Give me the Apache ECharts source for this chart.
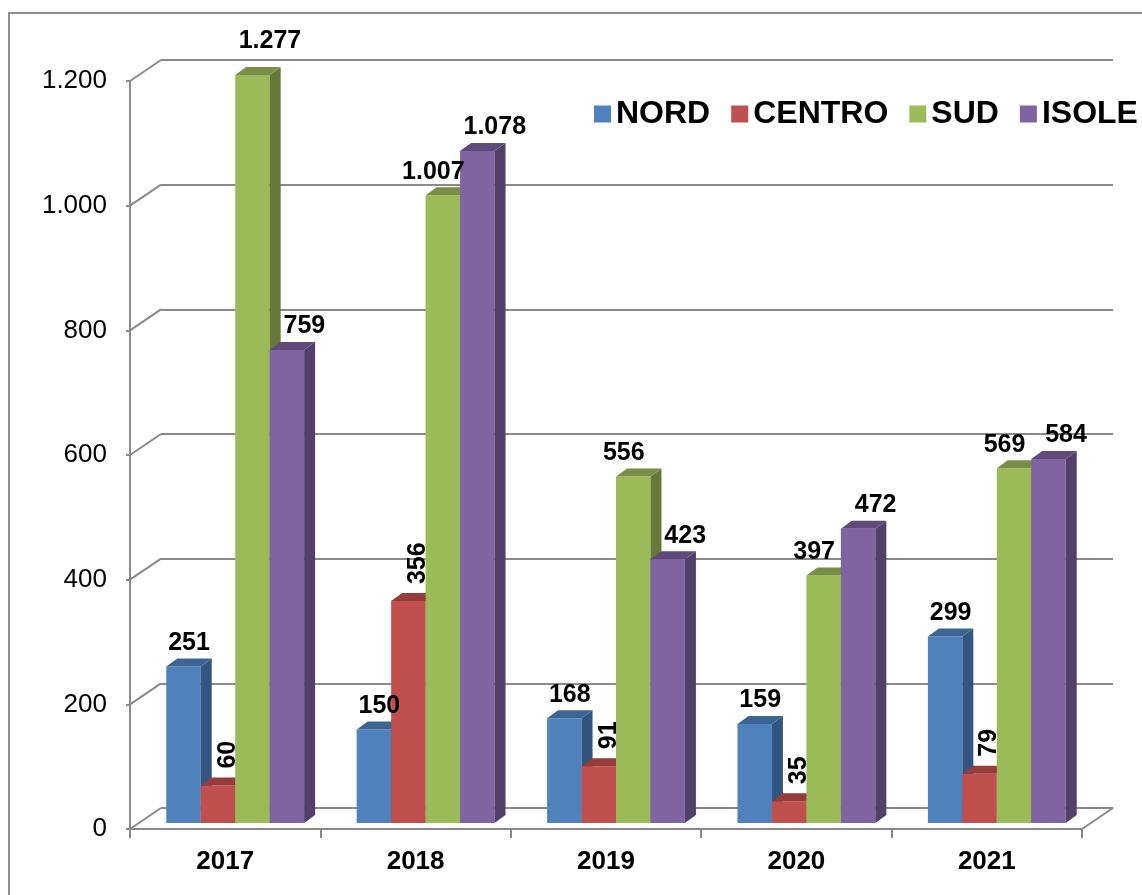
<!DOCTYPE html>
<html>
<head>
<meta charset="utf-8">
<script src="https://cdn.jsdelivr.net/npm/echarts@6/dist/echarts.min.js"></script>
<style>
  html, body { margin: 0; padding: 0; background: #fff; }
  #chart { width: 1142px; height: 895px; }
</style>
</head>
<body>
<div id="chart"></div>
<script>
// dati
var years = ['2017', '2018', '2019', '2020', '2021'];
var nord = [251, 150, 168, 159, 299];
var centro = [60, 356, 91, 35, 79];
var sud = [1277, 1007, 556, 397, 569];
var isole = [759, 1078, 423, 472, 584];
var yTicks = [0, 200, 400, 600, 800, 1000, 1200];

// labelDx: piccolo spostamento orizzontale delle etichette (come in Excel)
var regions = [
  { name: 'NORD', data: nord, color: '#4F81BD', side: '#34557F', top: '#3D6594', labelDx: 0 },
  { name: 'CENTRO', data: centro, color: '#C0504D', side: '#8A3735', top: '#963C3A', labelDx: 0, rotate: true },
  { name: 'SUD', data: sud, color: '#9BBB59', side: '#67793A', top: '#788F45', labelDx: -15 },
  { name: 'ISOLE', data: isole, color: '#8064A2', side: '#523F6A', top: '#604A7C', labelDx: 12 }
];

var FONT = 'Arial, "Liberation Sans", sans-serif';
var GRID_COLOR = '#8a8a8a';
var WALL_DX = 31, WALL_DY = -21;   // profondita' del pavimento
var BAR_DX = 11, BAR_DY = -8;      // profondita' delle barre
var YMAX = 1200;

function fmt(v) {
  return String(v).replace(/\B(?=(\d{3})+(?!\d))/g, '.');
}

var chart = echarts.init(document.getElementById('chart'));

// posizione della barra k nella categoria i
function barBox(api, i, v, k) {
  var bw = api.size([1, 0])[0];
  var barW = bw * 0.181;
  var c = api.coord([i, 0]);
  var x = c[0] + 10 - 2 * barW + k * barW;
  return {
    x: x,
    w: barW,
    yb: c[1] - 6,
    yt: api.coord([i, Math.min(v, YMAX)])[1] - 6
  };
}

// barre 3D (fronte, lato, sopra)
function makeBarSeries(reg, k) {
  return {
    name: reg.name,
    type: 'custom',
    z: 10 + k,
    itemStyle: { color: reg.color },
    encode: { x: 0, y: 1 },
    data: reg.data.map(function (v, i) { return [i, v]; }),
    renderItem: function (params, api) {
      var b = barBox(api, api.value(0), api.value(1), k);
      var x = b.x, w = b.w, yt = b.yt, yb = b.yb;
      return {
        type: 'group',
        children: [
          { type: 'rect', shape: { x: x, y: yt, width: w, height: yb - yt }, style: { fill: reg.color } },
          { type: 'polygon', shape: { points: [[x + w, yt], [x + w + BAR_DX, yt + BAR_DY], [x + w + BAR_DX, yb + BAR_DY], [x + w, yb]] }, style: { fill: reg.side } },
          { type: 'polygon', shape: { points: [[x, yt], [x + w, yt], [x + w + BAR_DX, yt + BAR_DY], [x + BAR_DX, yt + BAR_DY]] }, style: { fill: reg.top } }
        ]
      };
    }
  };
}

// etichette sopra tutte le barre
function makeLabelSeries(reg, k) {
  return {
    name: reg.name,
    type: 'custom',
    z: 50,
    silent: true,
    itemStyle: { color: reg.color },
    encode: { x: 0, y: 1 },
    data: reg.data.map(function (v, i) { return [i, v]; }),
    renderItem: function (params, api) {
      var v = api.value(1);
      var b = barBox(api, api.value(0), v, k);
      var style = { text: fmt(v), fill: '#000', fontSize: 25, fontWeight: 'bold', fontFamily: FONT };
      if (reg.rotate) {
        style.align = 'left';
        style.verticalAlign = 'middle';
        return { type: 'text', x: b.x + b.w / 2 + 10, y: b.yt - 17, rotation: Math.PI / 2, style: style };
      }
      style.align = 'center';
      style.verticalAlign = 'bottom';
      var clipped = v > YMAX;
      return {
        type: 'text',
        x: b.x + (b.w + BAR_DX) / 2 + (clipped ? 12 : reg.labelDx),
        y: b.yt - (clipped ? 21 : 11),
        style: style
      };
    }
  };
}

var series = regions.map(makeBarSeries).concat(regions.map(makeLabelSeries));

// linee diagonali della parete laterale e del pavimento
series.push({
  type: 'custom',
  z: 1,
  silent: true,
  encode: { x: 0, y: 1 },
  data: yTicks.map(function (v) { return [0, v]; }),
  renderItem: function (params, api) {
    var v = api.value(1);
    var bw = api.size([1, 0])[0];
    var p = api.coord([0, v]);
    var x0 = p[0] - bw / 2;
    var lineStyle = { stroke: GRID_COLOR, lineWidth: 2 };
    var children = [
      { type: 'line', shape: { x1: x0, y1: p[1], x2: x0 + WALL_DX, y2: p[1] + WALL_DY }, style: lineStyle }
    ];
    if (v === 0) {
      var xr = api.coord([years.length - 1, 0])[0] + bw / 2;
      children.push({ type: 'line', shape: { x1: xr, y1: p[1], x2: xr + WALL_DX, y2: p[1] + WALL_DY }, style: lineStyle });
    }
    return { type: 'group', children: children };
  }
});

chart.setOption({
  animation: false,
  backgroundColor: '#fff',
  graphic: [{
    type: 'rect',
    shape: { x: 9, y: 13, width: 1300, height: 1000 },
    style: { fill: 'none', stroke: '#8f8f8f', lineWidth: 2 }
  }],
  legend: {
    left: 594,
    top: 98,
    padding: 0,
    icon: 'rect',
    itemWidth: 17,
    itemHeight: 17,
    itemGap: 21,
    textStyle: { fontSize: 32, fontWeight: 'bold', color: '#000', fontFamily: FONT },
    data: regions.map(function (r) { return r.name; })
  },
  grid: [
    { left: 130, right: 60, top: 81, bottom: 66 },
    // parete di fondo, spostata in profondita'
    { left: 130 + WALL_DX, right: 60 - WALL_DX, top: 81 + WALL_DY, bottom: 66 - WALL_DY }
  ],
  xAxis: [
    {
      type: 'category',
      gridIndex: 0,
      data: years,
      axisLine: { lineStyle: { color: GRID_COLOR, width: 2 } },
      axisTick: { show: true, interval: 0, length: 9, lineStyle: { color: GRID_COLOR, width: 2 } },
      axisLabel: { margin: 20, fontSize: 26, fontWeight: 'bold', color: '#000', fontFamily: FONT }
    },
    { type: 'category', gridIndex: 1, data: years, show: false }
  ],
  yAxis: [
    {
      type: 'value',
      gridIndex: 0,
      min: 0,
      max: YMAX,
      interval: 200,
      axisLine: { show: true, lineStyle: { color: GRID_COLOR, width: 2 } },
      axisTick: { show: true, length: 4, lineStyle: { color: GRID_COLOR, width: 2 } },
      splitLine: { show: false },
      axisLabel: { margin: 23, fontSize: 26, color: '#000', fontFamily: FONT, formatter: fmt }
    },
    {
      type: 'value',
      gridIndex: 1,
      min: 0,
      max: YMAX,
      interval: 200,
      axisLine: { show: false },
      axisTick: { show: false },
      axisLabel: { show: false },
      splitLine: { show: true, lineStyle: { color: GRID_COLOR, width: 2 } }
    }
  ],
  series: series
});
</script>
</body>
</html>
